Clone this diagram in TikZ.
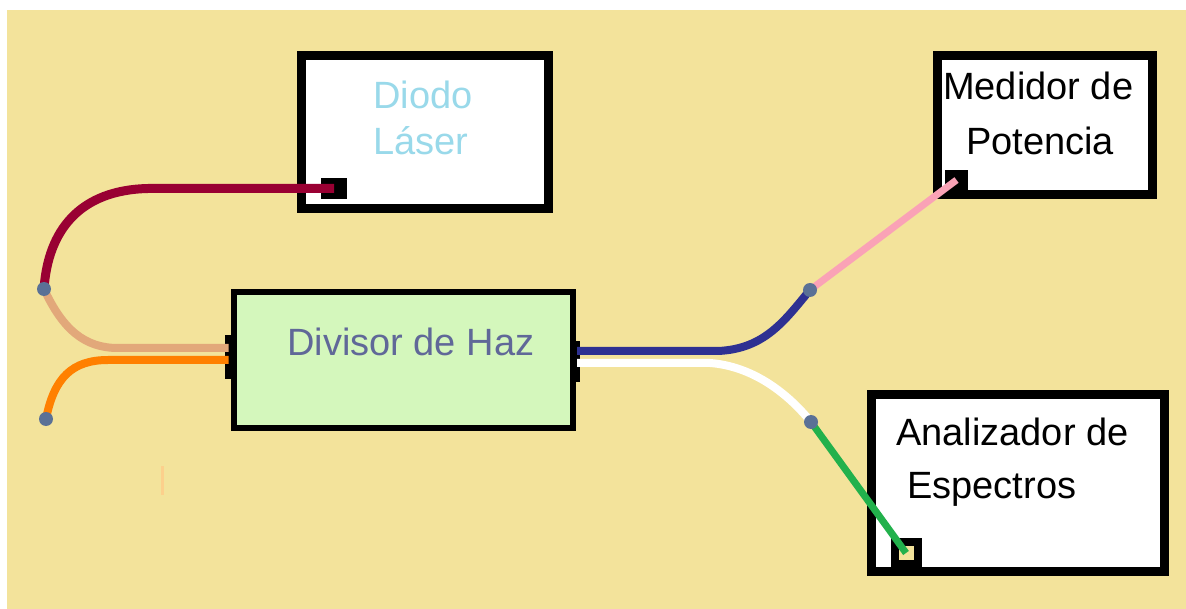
\documentclass[tikz,border=0pt]{standalone}
\usepackage{fontspec}
\setmainfont{Liberation Sans}
\definecolor{fondo}{RGB}{243,227,155}
\definecolor{verdecaja}{RGB}{212,247,188}
\definecolor{textodiodo}{RGB}{153,217,234}
\definecolor{textodivisor}{RGB}{96,104,152}
\definecolor{colorempalme}{RGB}{90,113,150}
\definecolor{rojo}{RGB}{153,0,51}
\definecolor{canela}{RGB}{226,168,122}
\definecolor{naranja}{RGB}{255,128,0}
\definecolor{azul}{RGB}{46,49,146}
\definecolor{rosa}{RGB}{250,162,182}
\definecolor{verde}{RGB}{34,177,76}
\definecolor{marca}{RGB}{252,208,140}

\begin{document}
\begin{tikzpicture}[x=1pt,y=-1pt]
        \tikzstyle{caja} = [rectangle, draw, fill=white, line width=9pt, inner sep=0pt, outer sep=0pt]
        \tikzstyle{puerto} = [rectangle, fill=black, inner sep=0pt, outer sep=0pt]
        \tikzstyle{fibra} = [line width=8pt]
        \tikzstyle{empalme} = [circle, fill=colorempalme, minimum size=14pt, inner sep=0pt]
        \tikzstyle{texto} = [anchor=base west, inner sep=0pt, font=\fontsize{38}{45}\selectfont]

        \useasboundingbox (0,0) rectangle (1186,609);
        \fill[white] (0,0) rectangle (1186,609);
        \fill[fondo] (7,10) rectangle (1186,609);
        \draw[marca, line width=3pt] (162.5,466) -- (162.5,495);

        \node[caja, minimum width=247pt, minimum height=153pt] (diodo) at (425,132) {};
        \node[caja, minimum width=215pt, minimum height=139pt] (medidor) at (1045,125) {};
        \node[caja, minimum width=293pt, minimum height=177pt] (analizador) at (1018,483) {};
        \node[caja, fill=verdecaja, line width=6pt, minimum width=339pt, minimum height=136pt] (divisor) at (403.5,360) {};

        \node[texto, textodiodo] (t1) at (373,109) {Diodo};
        \node[texto, textodiodo] (t2) at (373,155) {Láser};
        \node[texto] (t3) at (943,100) {Medidor de};
        \node[texto] (t4) at (966,155) {Potencia};
        \node[texto] (t5) at (896,445) {Analizador de};
        \node[texto] (t6) at (907,498) {Espectros};
        \node[texto, textodivisor] (t7) at (287,356) {Divisor de Haz};

        \node[puerto, minimum width=26pt, minimum height=21pt] (pdiodo) at (334,188.5) {};
        \node[puerto, minimum width=23pt, minimum height=20pt] (pmedidor) at (956.5,180) {};
        \node[puerto, fill=fondo, draw=black, line width=8pt, minimum width=23pt, minimum height=22pt] (panalizador) at (906,553) {};
        \node[puerto, minimum width=7pt, minimum height=44pt] (pizq) at (228.5,357) {};
        \node[puerto, minimum width=5pt, minimum height=41pt] (pder) at (577,361.5) {};

        \coordinate (e1) at (44,289);
        \coordinate (e2) at (46,419);
        \coordinate (e3) at (810,290);
        \coordinate (e4) at (811,422);
        \coordinate (c1) at (148,188.5);
        \coordinate (c2) at (118,348);
        \coordinate (c3) at (108,360);
        \coordinate (c4) at (718,351);
        \coordinate (c5) at (710,363);

        \draw[fibra, rojo, line width=9pt] (pdiodo.center) -- (c1) .. controls (80,190) and (48,230) .. (e1);
        \draw[fibra, canela] (e1) .. controls (63,330) and (85,348) .. (c2) -- (c2 -| pizq.center);
        \draw[fibra, naranja] (e2) .. controls (54,378) and (72,360) .. (c3) -- (c3 -| pizq.center);
        \draw[fibra, azul] (c4 -| pder.center) -- (c4) .. controls (765,349) and (785,320) .. (e3);
        \draw[fibra, white] (c5 -| pder.center) -- (c5) .. controls (750,366) and (785,390) .. (e4);
        \draw[fibra, rosa, line width=7pt] (e3) -- (pmedidor.center);
        \draw[fibra, verde, line width=7pt] (e4) -- (panalizador.center);

        \foreach \e in {1,...,4} {
            \node[empalme] (n\e) at (e\e) {};
        }
    \end{tikzpicture}
\end{document}
